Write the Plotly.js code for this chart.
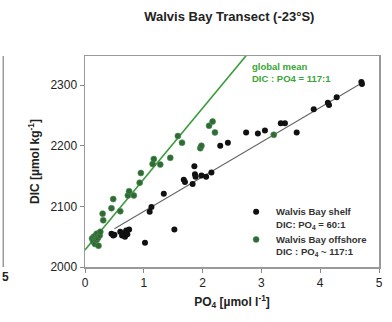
<!DOCTYPE html>
<html>
<head>
<meta charset="utf-8">
<script src="https://cdn.plot.ly/plotly-3.0.1.min.js"></script>
<style>html,body{margin:0;padding:0;background:#fff;}#chart{width:392px;height:322px;}</style>
</head>
<body>
<div id="chart"></div>
<script>
// Walvis Bay shelf samples
const shelfPO4 = [0.45,0.48,0.50,0.60,0.63,0.66,0.68,0.70,0.72,0.75,1.02,1.10,1.13,1.34,1.52,1.68,1.70,1.83,1.86,1.87,1.88,1.98,2.06,2.15,2.30,2.43,2.74,2.94,3.06,3.33,3.40,3.60,3.89,4.13,4.15,4.28,4.70,4.71];
const shelfDIC = [2055,2052,2053,2058,2052,2055,2050,2060,2054,2062,2040,2091,2099,2121,2062,2144,2140,2137,2166,2153,2149,2151,2149,2156,2200,2205,2222,2220,2225,2237,2237,2222,2260,2271,2267,2280,2305,2302];
// Walvis Bay offshore samples
const offPO4 = [0.12,0.14,0.15,0.17,0.18,0.20,0.20,0.22,0.23,0.25,0.26,0.30,0.31,0.45,0.48,0.60,0.73,0.75,0.83,0.93,0.95,1.15,1.17,1.28,1.45,1.58,1.65,1.96,1.98,2.11,2.17,2.21,3.21];
const offDIC = [2047,2042,2050,2038,2052,2045,2055,2048,2035,2052,2058,2088,2077,2097,2112,2092,2118,2125,2118,2139,2155,2170,2178,2169,2180,2216,2205,2196,2200,2233,2240,2222,2218];
// Reference lines
const globalLinePO4 = [0, 3.2];
const globalLineDIC = [2028, 2028 + 117 * 3.2];
const shelfLinePO4 = [0.5, 4.75];
const shelfLineDIC = [2063, 2306];
// Axis ticks
const xTicks = [0,1,2,3,4,5];
const yTicks = [2000,2100,2200,2300];

const FONT = "Liberation Sans, Arial, sans-serif";
const traces = [
  {x: globalLinePO4, y: globalLineDIC, mode: 'lines', line: {color: '#3a9c3a', width: 1.6}, showlegend: false, hoverinfo: 'skip'},
  {x: shelfLinePO4, y: shelfLineDIC, mode: 'lines', line: {color: '#666', width: 1.1}, showlegend: false, hoverinfo: 'skip'},
  {x: shelfPO4, y: shelfDIC, mode: 'markers', name: '<b>Walvis Bay shelf</b><br><b>DIC: PO<sub>4</sub> = 60:1</b>',
   marker: {color: '#111', size: 6, line: {width: 0}}},
  {x: offPO4, y: offDIC, mode: 'markers', name: '<b>Walvis Bay offshore</b><br><b>DIC : PO<sub>4</sub> ~ 117:1</b>',
   marker: {color: '#2f6b35', size: 6, line: {color: '#4e8c55', width: 0.6}}}
];

const layout = {
  width: 392, height: 322,
  margin: {l: 85, r: 13, t: 56, b: 55},
  paper_bgcolor: '#fff', plot_bgcolor: '#fff',
  font: {family: FONT, color: '#222'},
  title: {text: '<b>Walvis Bay Transect (-23°S)</b>', font: {size: 13, color: '#222'}, x: 0.585, xanchor: 'center', y: 0.948, yanchor: 'middle'},
  xaxis: {range: [0, 5], tickvals: xTicks, ticks: 'outside', ticklen: 4, tickcolor: '#888',
          showline: true, linecolor: '#999', linewidth: 1.5, mirror: true, showgrid: false, zeroline: false,
          tickfont: {size: 12, color: '#222', family: FONT}, tickprefix: '<b>', ticksuffix: '</b>',
          title: {text: '<b>PO<sub>4</sub> [µmol l<sup>-1</sup>]</b>', font: {size: 12, color: '#222'}, standoff: 8}},
  yaxis: {range: [2000, 2348], tickvals: yTicks, ticks: 'outside', ticklen: 4, tickcolor: '#888',
          showline: true, linecolor: '#999', linewidth: 1.5, mirror: true, showgrid: false, zeroline: false,
          tickfont: {size: 12, color: '#222', family: FONT}, tickprefix: '<b>', ticksuffix: '</b>',
          title: {text: '<b>DIC [µmol kg<sup>-1</sup>]</b>', font: {size: 12, color: '#222'}, standoff: 8}},
  showlegend: true,
  legend: {x: 0.514, y: 0.322, xanchor: 'left', yanchor: 'top', bgcolor: 'rgba(0,0,0,0)', borderwidth: 0,
           font: {size: 9.5, color: '#333', family: FONT}, itemwidth: 30, valign: 'top', tracegroupgap: 2},
  annotations: [
    {xref: 'paper', yref: 'paper', x: 0.56, y: 0.985, xanchor: 'left', yanchor: 'top', align: 'left', showarrow: false,
     text: '<b>global mean<br>DIC : PO4 = 117:1</b>', font: {size: 9.5, color: '#3aa635', family: FONT}},
    {xref: 'paper', yref: 'paper', x: -0.27, y: -0.005, xanchor: 'center', yanchor: 'top', showarrow: false,
     text: '<b>5</b>', font: {size: 12, color: '#222', family: FONT}}
  ],
  shapes: [
    {type: 'line', xref: 'paper', yref: 'paper', x0: -0.278, x1: -0.278, y0: 0, y1: 1, line: {color: '#999', width: 1.5}}
  ]
};

Plotly.newPlot('chart', traces, layout, {displayModeBar: false, staticPlot: true});
</script>
</body>
</html>
